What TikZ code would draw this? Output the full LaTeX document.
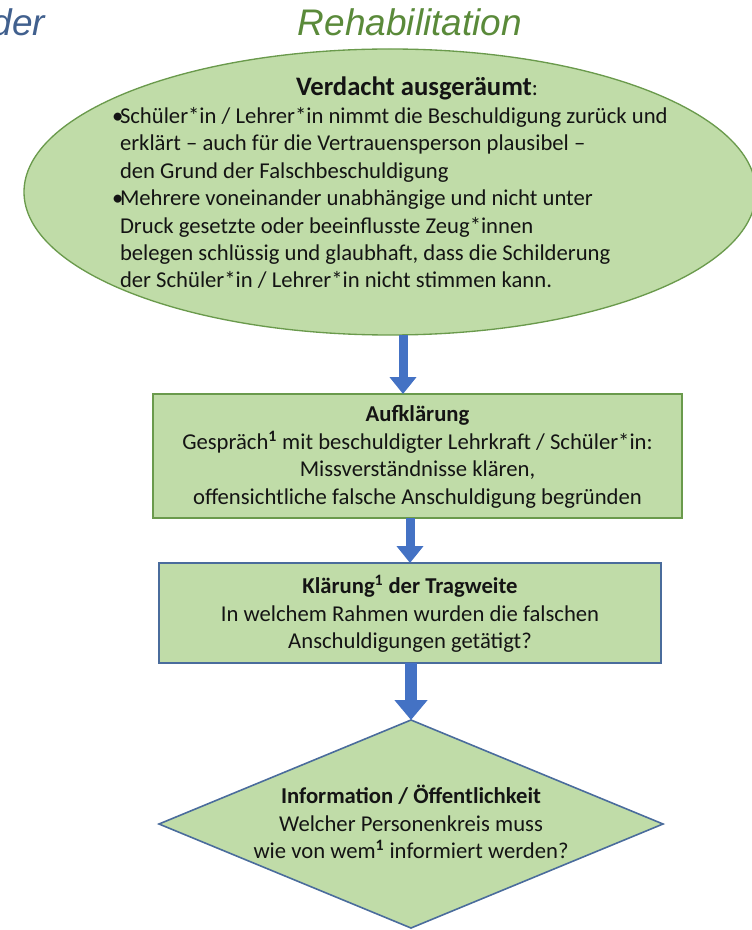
\documentclass[tikz,border=0pt]{standalone}
\usepackage{fontspec}
\setmainfont{Carlito}
\newfontfamily\headfont{Liberation Sans}
\usetikzlibrary{shapes.geometric,arrows.meta}

\definecolor{shapefill}{HTML}{C0DCA8}
\definecolor{greenline}{HTML}{6A9A4C}
\definecolor{blueline}{HTML}{4A6C9C}
\definecolor{arrowblue}{HTML}{4472C4}
\definecolor{titlegreen}{HTML}{5A8A3A}
\definecolor{titleblue}{HTML}{41608E}
\definecolor{textdark}{HTML}{141414}

\newcommand\bulletmark{\makebox[6pt][l]{•}}
\newcommand\contline{\hspace*{6pt}}
\newcommand\supone{\textsuperscript{\textbf{1}}}

\tikzset{
  every node/.style={inner sep=0pt, outer sep=0pt},
  shapebox/.style={rectangle, fill=shapefill},
  greenbox/.style={shapebox, draw=greenline, line width=1.2pt},
  bluebox/.style={shapebox, draw=blueline, line width=1.6pt},
  bodytext/.style={font=\fontsize{17}{20.6}\selectfont, align=center, text=textdark},
  headtext/.style={font=\bfseries\fontsize{20}{22}\selectfont, text=textdark},
  titletext/.style={font=\headfont\itshape\fontsize{27.75}{30}\selectfont},
  flowarrow/.style={draw=arrowblue, line width=6.75pt, -{Triangle[width=19.5pt,length=12.75pt]}},
  bigflowarrow/.style={draw=arrowblue, line width=8.5pt, -{Triangle[width=24pt,length=15pt]}}
}

\begin{document}
\begin{tikzpicture}[x=0.75pt, y=-0.75pt]
\useasboundingbox (0,0) rectangle (751,930);

% headings
\node[titletext, text=titleblue, anchor=east] (links) at (45,22) {der};
\node[titletext, text=titlegreen] (titel) at (410,22) {Rehabilitation};

% suspicion cleared
\node[ellipse, draw=greenline, fill=shapefill, line width=1pt,
      minimum width=549pt, minimum height=214.5pt] (verdacht) at (390,192) {};
\node[headtext] (verdachtkopf) at (417,88) {Verdacht ausgeräumt{\mdseries\fontsize{17}{20}\selectfont:}};
\node[bodytext, align=left, anchor=west] (verdachttext) at (112,198) {%
\bulletmark Schüler*in / Lehrer*in nimmt die Beschuldigung zurück und\\
\contline erklärt – auch für die Vertrauensperson plausibel –\\
\contline den Grund der Falschbeschuldigung\\
\bulletmark Mehrere voneinander unabhängige und nicht unter\\
\contline Druck gesetzte oder beeinflusste Zeug*innen\\
\contline belegen schlüssig und glaubhaft, dass die Schilderung\\
\contline der Schüler*in / Lehrer*in nicht stimmen kann.};

% clarification
\node[greenbox, minimum width=396.75pt, minimum height=93pt] (aufk) at (417.5,456) {};
\node[bodytext] (aufktext) at (417.5,457) {%
{\bfseries Aufklärung}\\
Gespräch\supone{} mit beschuldigter Lehrkraft / Schüler*in:\\
Missverständnisse klären,\\
offensichtliche falsche Anschuldigung begründen};

% scope
\node[bluebox, minimum width=376.5pt, minimum height=75pt] (klaer) at (410,613) {};
\node[bodytext] (klaertext) at (410,614) {%
{\bfseries Klärung\supone{} der Tragweite}\\
In welchem Rahmen wurden die falschen\\
Anschuldigungen getätigt?};

% information
\node[diamond, draw=blueline, fill=shapefill, line width=1.2pt,
      minimum width=378pt, minimum height=156pt, aspect=2.42] (info) at (411,824) {};
\node[bodytext] (infotext) at (411,822) {%
{\bfseries Information / Öffentlichkeit}\\
Welcher Personenkreis muss\\
wie von wem\supone{} informiert werden?};

% connectors
\coordinate (pfeilstart) at (403,335);
\draw[flowarrow] (pfeilstart) -- (pfeilstart |- aufk.north);
\draw[flowarrow] (klaer.north |- aufk.south) -- (klaer.north);
\draw[bigflowarrow] (info.north |- klaer.south) -- (info.north);
\end{tikzpicture}
\end{document}
